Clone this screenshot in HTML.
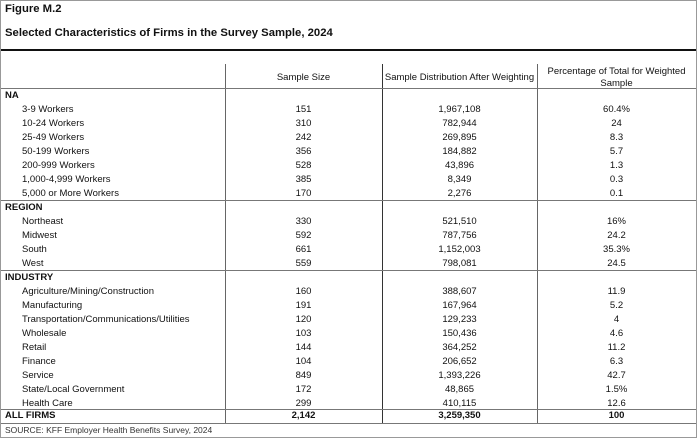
<!DOCTYPE html>
<html><head><meta charset="utf-8"><style>
body{margin:0;background:#fff;}
#c{position:relative;width:697px;height:438px;overflow:hidden;font-family:"Liberation Sans",Arial,sans-serif;color:#111;}
.t{position:absolute;white-space:nowrap;font-size:9.5px;line-height:12px;margin-top:1px}
.b{font-weight:bold;}
.l{left:5px}.s{left:22px}
.c1,.c2,.c3{text-align:center}
.c1{left:225px;width:157px}.c2{left:382px;width:155px}.c3{left:537px;width:159px}
.h{position:absolute;height:1px;background:#777;left:1px;width:695px}
.v{position:absolute;width:1px;background:#666;}
</style></head><body><div id="c">
<div style="position:absolute;left:0;top:0;width:695px;height:436px;border:1px solid #999;"></div>
<div class="t b" style="left:5px;top:1px;font-size:11.3px;line-height:14px">Figure M.2</div>
<div class="t b" style="left:5px;top:25px;font-size:11.3px;line-height:14px">Selected Characteristics of Firms in the Survey Sample, 2024</div>
<div class="h" style="top:49px;height:2px;background:#111"></div>
<div class="v" style="left:225px;top:64px;height:359px"></div>
<div class="v" style="left:382px;top:64px;height:359px;background:#333"></div>
<div class="v" style="left:537px;top:64px;height:359px"></div>
<div class="t c1" style="top:71px">Sample Size</div>
<div class="t c2" style="top:71px">Sample Distribution After Weighting</div>
<div class="t c3" style="top:65px">Percentage of Total for Weighted<br>Sample</div>
<div class="h" style="top:88px"></div>
<div class="t b l" style="top:89px">NA</div>
<div class="t s" style="top:103px">3-9 Workers</div><div class="t c1" style="top:103px">151</div><div class="t c2" style="top:103px">1,967,108</div><div class="t c3" style="top:103px">60.4%</div>
<div class="t s" style="top:117px">10-24 Workers</div><div class="t c1" style="top:117px">310</div><div class="t c2" style="top:117px">782,944</div><div class="t c3" style="top:117px">24</div>
<div class="t s" style="top:131px">25-49 Workers</div><div class="t c1" style="top:131px">242</div><div class="t c2" style="top:131px">269,895</div><div class="t c3" style="top:131px">8.3</div>
<div class="t s" style="top:145px">50-199 Workers</div><div class="t c1" style="top:145px">356</div><div class="t c2" style="top:145px">184,882</div><div class="t c3" style="top:145px">5.7</div>
<div class="t s" style="top:159px">200-999 Workers</div><div class="t c1" style="top:159px">528</div><div class="t c2" style="top:159px">43,896</div><div class="t c3" style="top:159px">1.3</div>
<div class="t s" style="top:173px">1,000-4,999 Workers</div><div class="t c1" style="top:173px">385</div><div class="t c2" style="top:173px">8,349</div><div class="t c3" style="top:173px">0.3</div>
<div class="t s" style="top:187px">5,000 or More Workers</div><div class="t c1" style="top:187px">170</div><div class="t c2" style="top:187px">2,276</div><div class="t c3" style="top:187px">0.1</div>
<div class="h" style="top:200px"></div>
<div class="t b l" style="top:201px">REGION</div>
<div class="t s" style="top:215px">Northeast</div><div class="t c1" style="top:215px">330</div><div class="t c2" style="top:215px">521,510</div><div class="t c3" style="top:215px">16%</div>
<div class="t s" style="top:229px">Midwest</div><div class="t c1" style="top:229px">592</div><div class="t c2" style="top:229px">787,756</div><div class="t c3" style="top:229px">24.2</div>
<div class="t s" style="top:243px">South</div><div class="t c1" style="top:243px">661</div><div class="t c2" style="top:243px">1,152,003</div><div class="t c3" style="top:243px">35.3%</div>
<div class="t s" style="top:257px">West</div><div class="t c1" style="top:257px">559</div><div class="t c2" style="top:257px">798,081</div><div class="t c3" style="top:257px">24.5</div>
<div class="h" style="top:270px"></div>
<div class="t b l" style="top:271px">INDUSTRY</div>
<div class="t s" style="top:285px">Agriculture/Mining/Construction</div><div class="t c1" style="top:285px">160</div><div class="t c2" style="top:285px">388,607</div><div class="t c3" style="top:285px">11.9</div>
<div class="t s" style="top:299px">Manufacturing</div><div class="t c1" style="top:299px">191</div><div class="t c2" style="top:299px">167,964</div><div class="t c3" style="top:299px">5.2</div>
<div class="t s" style="top:313px">Transportation/Communications/Utilities</div><div class="t c1" style="top:313px">120</div><div class="t c2" style="top:313px">129,233</div><div class="t c3" style="top:313px">4</div>
<div class="t s" style="top:327px">Wholesale</div><div class="t c1" style="top:327px">103</div><div class="t c2" style="top:327px">150,436</div><div class="t c3" style="top:327px">4.6</div>
<div class="t s" style="top:341px">Retail</div><div class="t c1" style="top:341px">144</div><div class="t c2" style="top:341px">364,252</div><div class="t c3" style="top:341px">11.2</div>
<div class="t s" style="top:355px">Finance</div><div class="t c1" style="top:355px">104</div><div class="t c2" style="top:355px">206,652</div><div class="t c3" style="top:355px">6.3</div>
<div class="t s" style="top:369px">Service</div><div class="t c1" style="top:369px">849</div><div class="t c2" style="top:369px">1,393,226</div><div class="t c3" style="top:369px">42.7</div>
<div class="t s" style="top:383px">State/Local Government</div><div class="t c1" style="top:383px">172</div><div class="t c2" style="top:383px">48,865</div><div class="t c3" style="top:383px">1.5%</div>
<div class="t s" style="top:397px">Health Care</div><div class="t c1" style="top:397px">299</div><div class="t c2" style="top:397px">410,115</div><div class="t c3" style="top:397px">12.6</div>
<div class="h" style="top:409px"></div>
<div class="t b l" style="top:409px">ALL FIRMS</div><div class="t b c1" style="top:409px">2,142</div><div class="t b c2" style="top:409px">3,259,350</div><div class="t b c3" style="top:409px">100</div>
<div class="h" style="top:423px"></div>
<div class="t l" style="top:423px;font-size:8.5px;color:#333">SOURCE: KFF Employer Health Benefits Survey, 2024</div>
</div></body></html>
